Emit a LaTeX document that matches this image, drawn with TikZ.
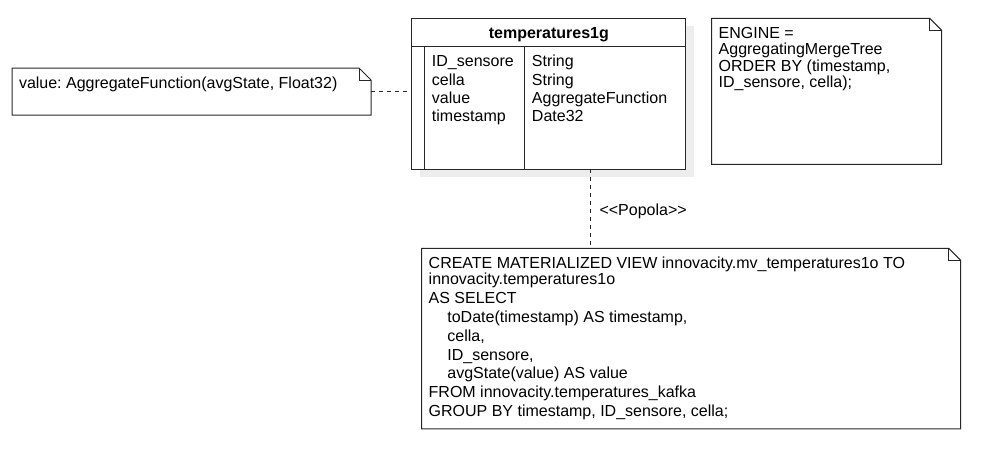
\documentclass[tikz,border=0pt]{standalone}
\usepackage{fontspec}
\newfontfamily\uifont{Liberation Sans}
\usetikzlibrary{positioning,shadows,matrix}

\tikzset{
  line/.style={draw=black!85, line width=0.75pt},
  conn/.style={draw=black!85, line width=0.75pt, dash pattern=on 3pt off 3pt},
  tabbox/.style={line, fill=white, inner sep=0pt, outer sep=0pt,
    drop shadow={shadow xshift=6pt, shadow yshift=-6pt, fill=black!7, opacity=1}},
  notebox/.style 2 args={anchor=north west, inner xsep=5.25pt, inner ysep=0pt, outer sep=0pt,
    execute at begin node={\begin{minipage}[t][#2][t]{#1}\raggedright\frenchspacing\rule{0pt}{15pt}},
    execute at end node={\end{minipage}},
    append after command={\pgfextra{\let\nb\tikzlastnode
      \draw[line] (\nb.north west) -- ([xshift=-9pt]\nb.north east) -- ([yshift=-9pt]\nb.north east)
        -- (\nb.south east) -- (\nb.south west) -- cycle;
      \draw[line] ([xshift=-9pt]\nb.north east) |- ([yshift=-9pt]\nb.north east);}}}
}

\begin{document}
\begin{tikzpicture}[x=0.75pt, y=-0.75pt, font=\uifont\fontsize{12}{12.4}\selectfont\frenchspacing]
  \useasboundingbox (0,0) rectangle (982,451);
  % table
  \node[tabbox, minimum width=205.7pt, minimum height=21.3pt, anchor=north west,
        text depth=0pt, font=\uifont\bfseries\fontsize{12}{12.4}\selectfont] (hdr) at (411.7,18.3) {temperatures1g};
  \node[tabbox, minimum width=205.7pt, minimum height=91.95pt, below=0pt of hdr] (body) {};
  \draw[line] ([xshift=9.45pt]body.north west) -- ([xshift=9.45pt]body.south west);
  \draw[line] ([xshift=84.45pt]body.north west) -- ([xshift=84.45pt]body.south west);
  \matrix (cols) [matrix of nodes, inner sep=0pt, matrix anchor=cols-1-1.base west, at={(431.7,66.7)},
    nodes={anchor=base west, inner sep=0pt, text height=10pt, text depth=3.75pt},
    column 1/.style={nodes={text width=75pt}}]
  {
    ID\_sensore & String \\
    cella & String \\
    value & AggregateFunction \\
    timestamp & Date32 \\};
  % notes
  \node[notebox={258.75pt}{35.25pt}] (lnote) at (12,68) {value: AggregateFunction(avgState, Float32)};
  \node[notebox={162pt}{109.5pt}] (rnote) at (711.7,18.3)
    {ENGINE =\\ AggregatingMergeTree\\ ORDER BY (timestamp,\\ ID\_sensore, cella);};
  \node[notebox={393.75pt}{135.5pt}] (bnote) at (421.7,248.3)
    {CREATE MATERIALIZED VIEW innovacity.mv\_temperatures1o TO\\
     innovacity.temperatures1o\\[1.7pt]
     AS SELECT\\[1.7pt]
     \hspace*{14pt}toDate(timestamp) AS timestamp,\\[1.7pt]
     \hspace*{14pt}cella,\\[1.7pt]
     \hspace*{14pt}ID\_sensore,\\[1.7pt]
     \hspace*{14pt}avgState(value) AS value\\[1.7pt]
     FROM innovacity.temperatures\_kafka\\[1.7pt]
     GROUP BY timestamp, ID\_sensore, cella;};
  % links
  \draw[conn] (lnote.east) -- (lnote.east -| body.west);
  \coordinate (feed) at ([xshift=30.9pt]body.south);
  \draw[conn] (feed) -- (feed |- bnote.north)
    node[midway, anchor=west, inner sep=0pt, xshift=6.75pt, yshift=-2pt] (popola) {<<Popola>>};
\end{tikzpicture}
\end{document}
